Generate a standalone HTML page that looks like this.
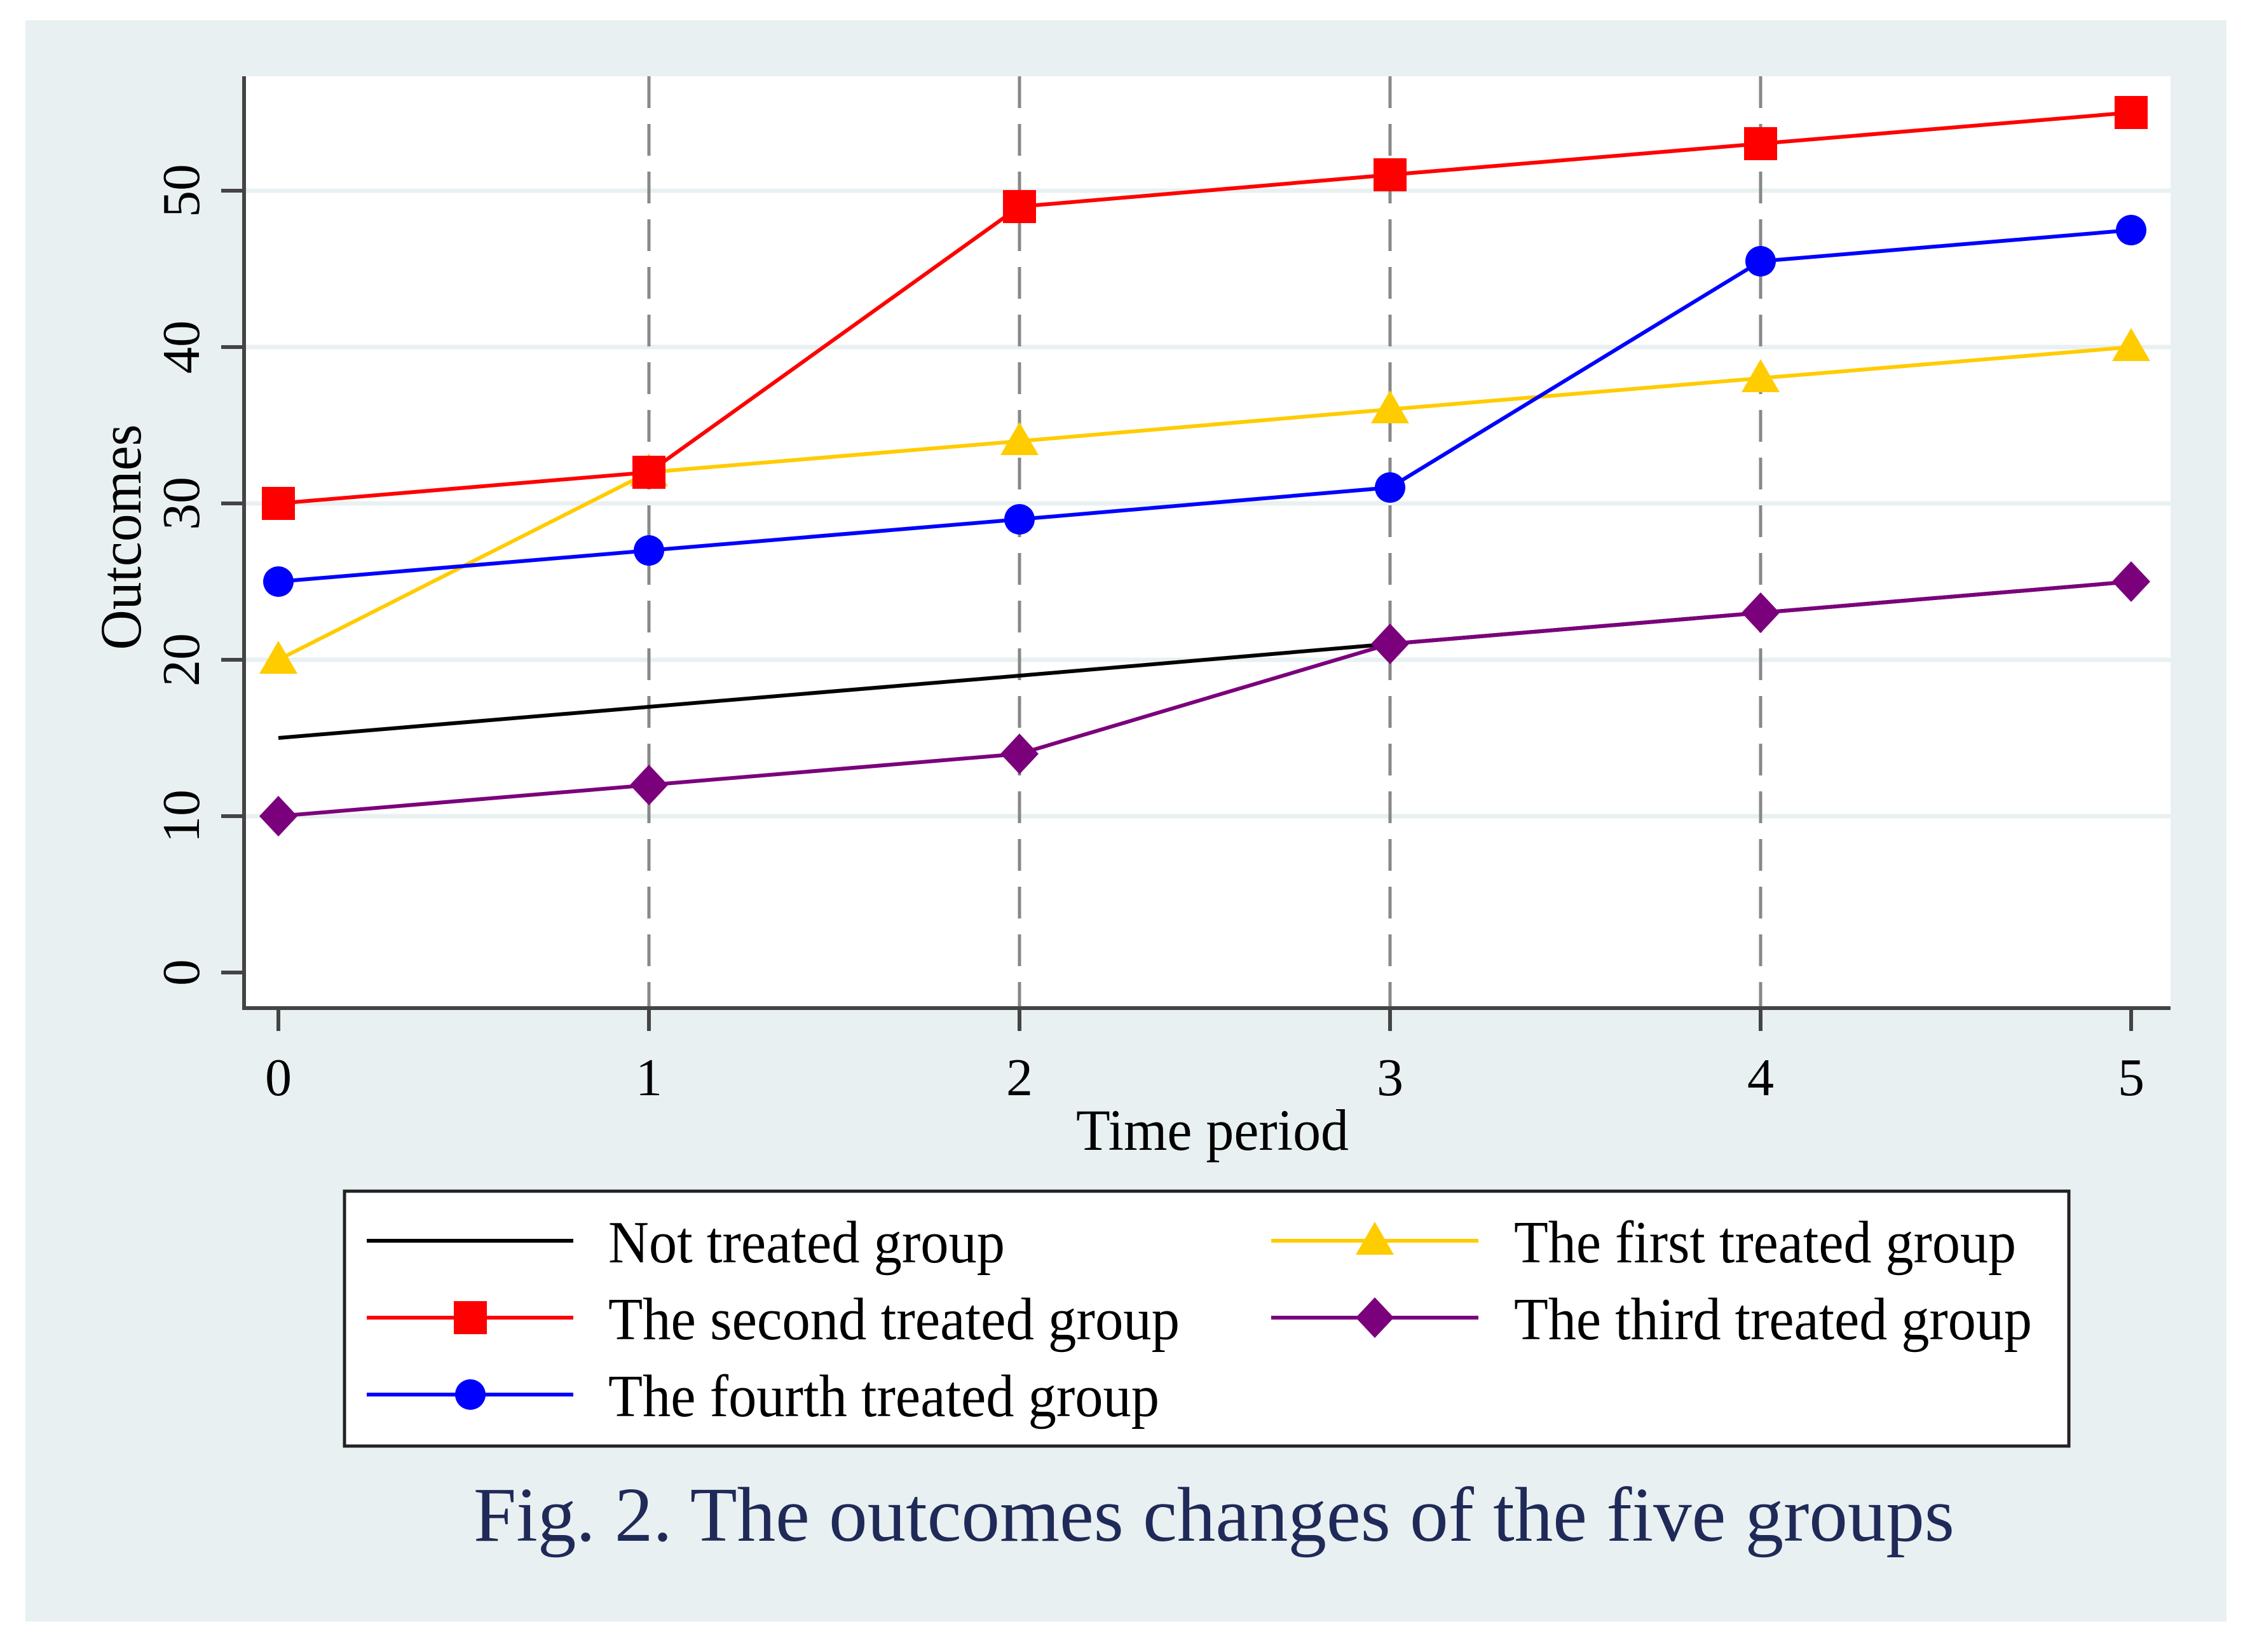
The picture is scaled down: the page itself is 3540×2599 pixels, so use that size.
<!DOCTYPE html>
<html><head><meta charset="utf-8"><style>
html,body{margin:0;padding:0;background:#fff;}
svg{display:block;}
text{font-family:"Liberation Serif",serif;fill:#000;}
</style></head><body>
<svg width="3540" height="2599" viewBox="0 0 3540 2599" xmlns="http://www.w3.org/2000/svg">
<rect x="40" y="32" width="3463" height="2519" fill="#e9f0f2"/>
<rect x="384" y="120" width="3031" height="1466" fill="#fff"/>
<g stroke="#e9f0f2" stroke-width="7">
<line x1="384" x2="3415" y1="1284" y2="1284"/>
<line x1="384" x2="3415" y1="1038" y2="1038"/>
<line x1="384" x2="3415" y1="792" y2="792"/>
<line x1="384" x2="3415" y1="546" y2="546"/>
<line x1="384" x2="3415" y1="300" y2="300"/>
</g>
<g stroke="#888" stroke-width="5" stroke-dasharray="50,25">
<line x1="1021" x2="1021" y1="120" y2="1586"/>
<line x1="1604" x2="1604" y1="120" y2="1586"/>
<line x1="2187" x2="2187" y1="120" y2="1586"/>
<line x1="2770" x2="2770" y1="120" y2="1586"/>
</g>
<g stroke="#444" stroke-width="6">
<line x1="384" x2="384" y1="120" y2="1589"/>
<line x1="381" x2="3415" y1="1586" y2="1586"/>
<line x1="348" x2="384" y1="1530" y2="1530"/>
<line x1="348" x2="384" y1="1284" y2="1284"/>
<line x1="348" x2="384" y1="1038" y2="1038"/>
<line x1="348" x2="384" y1="792" y2="792"/>
<line x1="348" x2="384" y1="546" y2="546"/>
<line x1="348" x2="384" y1="300" y2="300"/>
<line x1="438" x2="438" y1="1586" y2="1622"/>
<line x1="1021" x2="1021" y1="1586" y2="1622"/>
<line x1="1604" x2="1604" y1="1586" y2="1622"/>
<line x1="2187" x2="2187" y1="1586" y2="1622"/>
<line x1="2770" x2="2770" y1="1586" y2="1622"/>
<line x1="3353" x2="3353" y1="1586" y2="1622"/>
</g>
<g font-size="84" text-anchor="middle">
<text transform="translate(313,1530) rotate(-90)">0</text>
<text transform="translate(313,1284) rotate(-90)">10</text>
<text transform="translate(313,1038) rotate(-90)">20</text>
<text transform="translate(313,792) rotate(-90)">30</text>
<text transform="translate(313,546) rotate(-90)">40</text>
<text transform="translate(313,300) rotate(-90)">50</text>
<text transform="translate(221,845) rotate(-90)" font-size="92" textLength="355" lengthAdjust="spacingAndGlyphs">Outcomes</text>
</g>
<g font-size="84" text-anchor="middle">
<text x="438" y="1723">0</text>
<text x="1021" y="1723">1</text>
<text x="1604" y="1723">2</text>
<text x="2187" y="1723">3</text>
<text x="2770" y="1723">4</text>
<text x="3353" y="1723">5</text>
</g>
<text x="1693" y="1809" font-size="92" textLength="429" lengthAdjust="spacingAndGlyphs">Time period</text>
<g fill="none" stroke-width="6">
<polyline stroke="#000" points="438,1161 1021,1112 1604,1063 2187,1013 2770,964 3353,915"/>
<polyline stroke="#7b007b" points="438,1284 1021,1235 1604,1186 2187,1013 2770,964 3353,915"/>
<polyline stroke="#ffcc00" points="438,1038 1021,743 1604,694 2187,644 2770,595 3353,546"/>
<polyline stroke="#0000ff" points="438,915 1021,866 1604,817 2187,767 2770,411 3353,362"/>
<polyline stroke="#ff0000" points="438,792 1021,743 1604,325 2187,275 2770,226 3353,177"/>
</g>
<g fill="#7b007b">
<polygon points="438,1252 468,1284 438,1316 408,1284"/>
<polygon points="1021,1203 1051,1235 1021,1267 991,1235"/>
<polygon points="1604,1154 1634,1186 1604,1218 1574,1186"/>
<polygon points="2187,981 2217,1013 2187,1045 2157,1013"/>
<polygon points="2770,932 2800,964 2770,996 2740,964"/>
<polygon points="3353,883 3383,915 3353,947 3323,915"/>
</g>
<g fill="#ffcc00">
<polygon points="438,1008 468,1060 408,1060"/>
<polygon points="1021,713 1051,765 991,765"/>
<polygon points="1604,664 1634,716 1574,716"/>
<polygon points="2187,614 2217,666 2157,666"/>
<polygon points="2770,565 2800,617 2740,617"/>
<polygon points="3353,516 3383,568 3323,568"/>
</g>
<g fill="#0000ff">
<circle cx="438" cy="915" r="24"/><circle cx="1021" cy="866" r="24"/><circle cx="1604" cy="817" r="24"/>
<circle cx="2187" cy="767" r="24"/><circle cx="2770" cy="411" r="24"/><circle cx="3353" cy="362" r="24"/>
</g>
<g fill="#ff0000">
<rect x="412" y="766" width="52" height="52"/><rect x="995" y="717" width="52" height="52"/>
<rect x="1578" y="299" width="52" height="52"/><rect x="2161" y="249" width="52" height="52"/>
<rect x="2744" y="200" width="52" height="52"/><rect x="3327" y="151" width="52" height="52"/>
</g>
<rect x="542" y="1874" width="2713" height="401" fill="#fff" stroke="#222" stroke-width="5"/>
<g stroke-width="6">
<line x1="577" x2="902" y1="1952" y2="1952" stroke="#000"/>
<line x1="577" x2="902" y1="2073" y2="2073" stroke="#ff0000"/>
<line x1="577" x2="902" y1="2194" y2="2194" stroke="#0000ff"/>
<line x1="2000" x2="2326" y1="1952" y2="1952" stroke="#ffcc00"/>
<line x1="2000" x2="2326" y1="2073" y2="2073" stroke="#7b007b"/>
</g>
<rect x="714" y="2047" width="52" height="52" fill="#ff0000"/>
<circle cx="740" cy="2194" r="24" fill="#0000ff"/>
<polygon points="2163,1922 2193,1974 2133,1974" fill="#ffcc00"/>
<polygon points="2163,2041 2193,2073 2163,2105 2133,2073" fill="#7b007b"/>
<g font-size="94">
<text x="957" y="1986" textLength="624" lengthAdjust="spacingAndGlyphs">Not treated group</text>
<text x="957" y="2107" textLength="899" lengthAdjust="spacingAndGlyphs">The second treated group</text>
<text x="957" y="2228" textLength="867" lengthAdjust="spacingAndGlyphs">The fourth treated group</text>
<text x="2382" y="1986" textLength="790" lengthAdjust="spacingAndGlyphs">The first treated group</text>
<text x="2382" y="2107" textLength="815" lengthAdjust="spacingAndGlyphs">The third treated group</text>
</g>
<text x="745" y="2424" font-size="122" textLength="2330" lengthAdjust="spacingAndGlyphs" style="fill:#1f2a58">Fig. 2. The outcomes changes of the five groups</text>
</svg>
</body></html>
